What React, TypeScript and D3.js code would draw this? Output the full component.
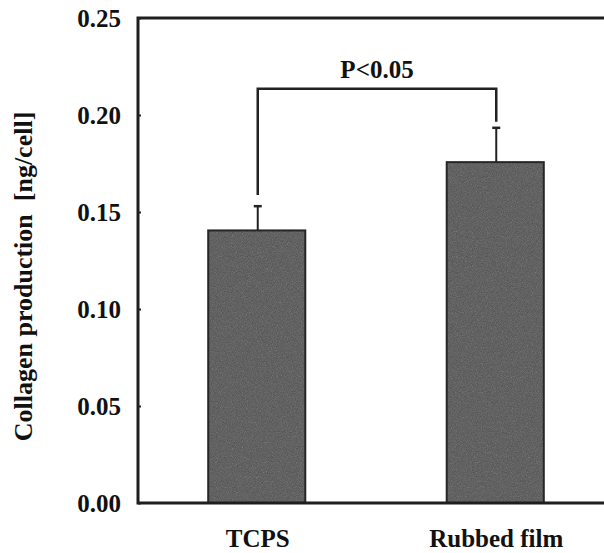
import * as d3 from 'd3'
import React, {useEffect, useRef} from 'react'

const categories = ['TCPS', 'Rubbed film']
const means = [0.1405, 0.1757]
const errors = [0.0125, 0.0177]
const yTicks = [0.00, 0.05, 0.10, 0.15, 0.20, 0.25]
// significance bracket: level of the bar and where each leg stops
const bracketLevel = 0.2135
const bracketEnds = [0.1587, 0.1965]
const sigLabel = 'P<0.05'

const W = 604, H = 553
const family = "'Liberation Serif', Tinos, 'Times New Roman', Times, serif"

export default function App() {
    const ref = useRef<SVGSVGElement>(null)

    useEffect(() => {
        const svg = d3.select(ref.current)
        svg.selectAll('*').remove()

        const margin = {top: 18, left: 138, bottom: 50}
        const y = d3.scaleLinear().domain([0, 0.25]).range([H - margin.bottom, margin.top])
        const x = d3.scaleBand().domain(categories).range([margin.left + 2, 612])
                .paddingInner(0.593).paddingOuter(0.286)

        // grainy dark grey fill for the bars
        const defs = svg.append('defs')
        const f = defs.append('filter').attr('id', 'grain').attr('x', 0).attr('y', 0)
                .attr('width', 1).attr('height', 1)
                .attr('color-interpolation-filters', 'sRGB')
        f.append('feTurbulence').attr('type', 'fractalNoise').attr('baseFrequency', 1.2)
                .attr('numOctaves', 1).attr('seed', 4).attr('result', 'noise')
        f.append('feColorMatrix').attr('type', 'saturate').attr('values', 0).attr('in', 'noise').attr('result', 'g')
        const ct = f.append('feComponentTransfer').attr('in', 'g').attr('result', 'grey')
        const tbl = '0.26 0.31 0.36 0.41 0.5 0.8'
        ct.append('feFuncR').attr('type', 'table').attr('tableValues', tbl)
        ct.append('feFuncG').attr('type', 'table').attr('tableValues', tbl)
        ct.append('feFuncB').attr('type', 'table').attr('tableValues', tbl)
        ct.append('feFuncA').attr('type', 'linear').attr('slope', 0).attr('intercept', 1)
        f.append('feComposite').attr('in', 'grey').attr('in2', 'SourceGraphic').attr('operator', 'in')

        const data = categories.map((c, i) => ({cat: c, mean: means[i], err: errors[i]}))

        // bars
        svg.selectAll('rect.bar')
                .data(data)
                .enter()
                .append('rect')
                .attr('class', 'bar')
                .attr('x', d => x(d.cat)!)
                .attr('y', d => y(d.mean))
                .attr('width', x.bandwidth())
                .attr('height', d => y(0) - y(d.mean))
                .attr('fill', '#5a5a5a')
                .attr('filter', 'url(#grain)')
        svg.selectAll('rect.edge')
                .data(data)
                .enter()
                .append('rect')
                .attr('x', d => x(d.cat)!)
                .attr('y', d => y(d.mean))
                .attr('width', x.bandwidth())
                .attr('height', d => y(0) - y(d.mean))
                .attr('fill', 'none')
                .attr('stroke', '#262626')
                .attr('stroke-width', 2)

        // error bars (upper only)
        const cx = (c: string) => x(c)! + x.bandwidth() / 2 + 1
        data.forEach(d => {
            svg.append('line')
                    .attr('x1', cx(d.cat)).attr('x2', cx(d.cat))
                    .attr('y1', y(d.mean)).attr('y2', y(d.mean + d.err))
                    .attr('stroke', '#222').attr('stroke-width', 2)
            svg.append('line')
                    .attr('x1', cx(d.cat) - 4).attr('x2', cx(d.cat) + 4)
                    .attr('y1', y(d.mean + d.err)).attr('y2', y(d.mean + d.err))
                    .attr('stroke', '#222').attr('stroke-width', 2.5)
        })

        // significance bracket
        const bx = categories.map(cx)
        svg.append('path')
                .attr('d', `M${bx[0]},${y(bracketEnds[0])}V${y(bracketLevel)}H${bx[1]}V${y(bracketEnds[1])}`)
                .attr('fill', 'none').attr('stroke', '#222').attr('stroke-width', 2.5)
        svg.append('text')
                .attr('x', (bx[0] + bx[1]) / 2)
                .attr('y', y(bracketLevel) - 11)
                .attr('text-anchor', 'middle')
                .attr('font-family', family).attr('font-weight', 'bold').attr('font-size', 25)
                .attr('fill', '#111')
                .text(sigLabel)

        // frame
        svg.append('path')
                .attr('d', `M${W + 10},${y(0.25)}H${margin.left}V${y(0)}H${W + 10}`)
                .attr('fill', 'none').attr('stroke', '#1e1e1e').attr('stroke-width', 3)

        // y axis: small inner ticks, labels on the left
        const yAxis = svg.append('g')
                .attr('transform', `translate(${margin.left},0)`)
                .call(d3.axisRight(y).tickValues(yTicks).tickSize(3).tickFormat(d3.format('.2f')))
        yAxis.attr('font-family', family).attr('font-size', 25).attr('font-weight', 'bold')
        yAxis.select('.domain').remove()
        yAxis.selectAll('line').attr('stroke', '#222').attr('stroke-width', 2)
        yAxis.selectAll('text')
                .attr('x', -17)
                .attr('dy', '0.35em')
                .attr('text-anchor', 'end')
                .attr('fill', '#111')

        // category labels
        svg.selectAll('text.cat')
                .data(categories)
                .enter()
                .append('text')
                .attr('class', 'cat')
                .attr('x', d => cx(d))
                .attr('y', 547)
                .attr('text-anchor', 'middle')
                .attr('fill', '#111')
                .attr('font-family', family).attr('font-weight', 'bold').attr('font-size', 25)
                .text(d => d)

        // y title
        svg.append('text')
                .attr('transform', `translate(32,${(y(0) + y(0.25)) / 2 + 16}) rotate(-90)`)
                .attr('text-anchor', 'middle')
                .attr('fill', '#111')
                .attr('font-family', family).attr('font-weight', 'bold').attr('font-size', 26)
                .style('white-space', 'pre')
                .text('Collagen production  [ng/cell]')
    }, [])

    return (
        <svg ref={ref} width={W} height={H}
             style={{position: 'absolute', left: 0, top: 0, background: '#fff'}} />
    )
}
